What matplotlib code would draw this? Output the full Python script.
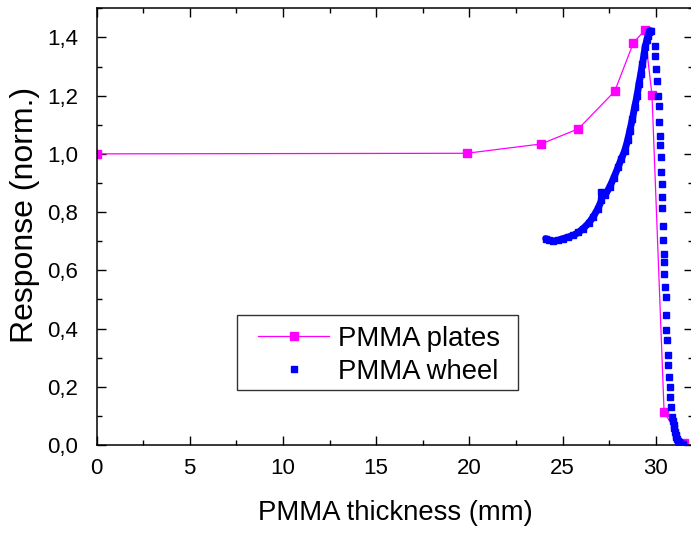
import matplotlib
matplotlib.use('Agg')
import matplotlib.pyplot as plt
from matplotlib.patches import Rectangle
from matplotlib.ticker import MultipleLocator, FuncFormatter

plt.rcParams['font.family'] = ['Liberation Sans', 'DejaVu Sans']

# PMMA plates (magenta squares with line)
plates_x = [0.0, 19.85, 23.85, 25.85, 27.8, 28.8, 29.4, 29.8, 30.45, 31.5]
plates_y = [1.0, 1.002, 1.034, 1.086, 1.215, 1.381, 1.424, 1.202, 0.112, 0.006]

# PMMA wheel, rising part (dense points)
rise_x = [24.10, 24.30, 24.49, 24.75, 25.03, 25.30, 25.57, 25.85, 26.10, 26.40,
          26.64, 26.90, 27.09, 27.09, 27.30, 27.53, 27.75, 27.98, 28.15, 28.34,
          28.50, 28.61, 28.75, 28.87, 29.00, 29.10, 29.20, 29.29, 29.37, 29.43,
          29.52, 29.59, 29.66, 29.72]
rise_y = [0.709, 0.703, 0.700, 0.703, 0.709, 0.714, 0.720, 0.730, 0.743, 0.762,
          0.783, 0.812, 0.840, 0.868, 0.860, 0.886, 0.918, 0.954, 0.982, 1.011,
          1.048, 1.080, 1.120, 1.160, 1.200, 1.240, 1.275, 1.309, 1.340, 1.366,
          1.390, 1.406, 1.418, 1.423]

# PMMA wheel, falling part (sparser points)
fall_x = [29.77, 29.95, 29.98, 30.04, 30.09, 30.12, 30.16, 30.20, 30.23, 30.25,
          30.27, 30.28, 30.32, 30.34, 30.36, 30.39, 30.39, 30.43, 30.45, 30.47,
          30.50, 30.54, 30.55, 30.57, 30.61, 30.64, 30.68, 30.71, 30.75, 30.79,
          30.84, 30.90, 30.94, 30.97, 31.00, 31.04, 31.08, 31.11, 31.16, 31.22,
          31.27, 31.32, 31.40, 31.46]
fall_y = [1.423, 1.371, 1.337, 1.292, 1.251, 1.200, 1.166, 1.108, 1.063, 1.029,
          0.988, 0.937, 0.897, 0.851, 0.813, 0.753, 0.703, 0.657, 0.628, 0.589,
          0.543, 0.508, 0.446, 0.394, 0.360, 0.309, 0.274, 0.234, 0.200, 0.166,
          0.131, 0.097, 0.082, 0.069, 0.057, 0.046, 0.036, 0.028, 0.021, 0.015,
          0.010, 0.006, 0.004, 0.003]

magenta = '#FF00FF'
blue = '#0000FF'

fig = plt.figure(figsize=(6.91, 5.34), dpi=100)
ax = fig.add_axes([96.5 / 691, 89 / 534, 596.5 / 691, 436.7 / 534])

ax.plot(plates_x, plates_y, color=magenta, lw=0.9, marker='s', ms=5.5,
        mec=magenta, mfc=magenta, label='PMMA plates', zorder=2)
ax.plot(rise_x, rise_y, color=blue, lw=5, solid_capstyle='round', zorder=3)
ax.plot(rise_x + fall_x, rise_y + fall_y, ls='none', marker='s', ms=3.7,
        color=blue, mec=blue, label='PMMA wheel', zorder=3)

ax.set_xlim(0, 32)
ax.set_ylim(0, 1.5)
ax.xaxis.set_major_locator(MultipleLocator(5))
ax.xaxis.set_minor_locator(MultipleLocator(2.5))
ax.yaxis.set_major_locator(MultipleLocator(0.2))
ax.yaxis.set_minor_locator(MultipleLocator(0.1))
ax.yaxis.set_major_formatter(FuncFormatter(
    lambda v, p: '' if v > 1.45 else ('%.1f' % v).replace('.', ',')))

ax.tick_params(which='both', direction='in', top=True, right=True, width=1)
ax.tick_params(which='major', length=6.5)
ax.tick_params(which='minor', length=3.6)
ax.tick_params(axis='y', labelsize=16, pad=13)
ax.tick_params(axis='x', labelsize=16, pad=9)
for s in ax.spines.values():
    s.set_linewidth(1.1)

ax.set_xlabel('PMMA thickness (mm)', fontsize=19.8)
ax.set_ylabel('Response (norm.)', fontsize=23)
ax.xaxis.set_label_coords(0.501, -0.126)
ax.yaxis.set_label_coords(-0.094, 0.527)

# legend box drawn separately, entries placed inside it
ax.add_patch(Rectangle((0.2355, 0.1259), 0.4711, 0.1718, transform=ax.transAxes,
                       fill=True, facecolor='white', edgecolor='#333333',
                       lw=1, zorder=4))
leg = ax.legend(loc='upper left', bbox_to_anchor=(0.2707, 0.2733),
                fontsize=19.8, frameon=False, handlelength=2.6,
                borderpad=0, labelspacing=0.26, handletextpad=0.3,
                borderaxespad=0)
leg.set_zorder(5)

fig.savefig('out.png', dpi=100)
